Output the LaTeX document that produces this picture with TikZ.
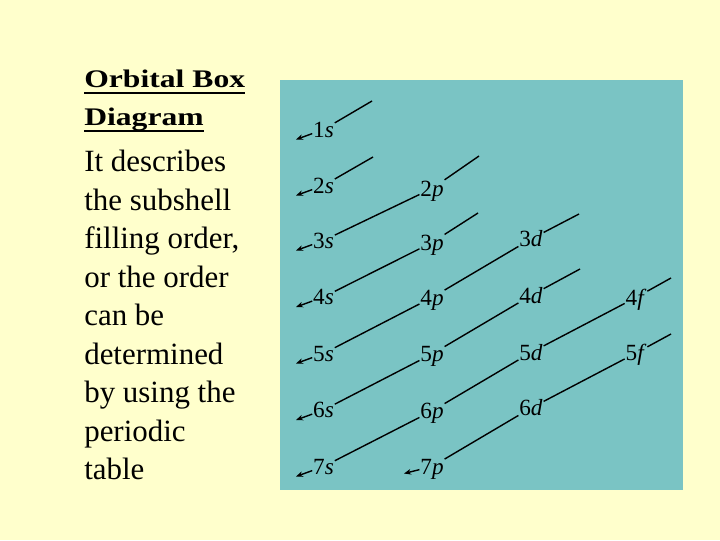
\documentclass[tikz,border=0pt]{standalone}
\usepackage{fontspec}
\setmainfont{Liberation Serif}
\newfontfamily\titlefont[FakeStretch=1.25]{Liberation Serif}
\usepackage{tikz}
\usetikzlibrary{arrows.meta}
\definecolor{slidebg}{RGB}{255,255,204}
\definecolor{panel}{RGB}{122,196,196}

\begin{document}
\begin{tikzpicture}[x=0.025cm,y=-0.025cm,
    orb/.style={inner sep=0.5pt,text height=11pt,text depth=0pt,font=\fontsize{16.5}{16.5}\selectfont},
    diag/.style={line width=1pt},
    back/.style={line width=1pt,-{Stealth[length=5pt,width=4pt]}},
    line/.style={anchor=base west,inner sep=0pt,font=\fontsize{22}{22}\selectfont},
    head/.style={anchor=base west,inner sep=0pt,font=\titlefont\bfseries\fontsize{18}{18}\selectfont}]
    \fill[slidebg] (0,0) rectangle (720,540);
    \fill[panel] (280,80) rectangle (683,490);

    \node[head] (h1) at (84,87) {Orbital Box};
    \node[head] (h2) at (84,125.3) {Diagram\ };
    \draw[line width=1.4pt] ([yshift=-4pt]h1.base west) -- ([yshift=-4pt]h1.base east);
    \draw[line width=1.4pt] ([yshift=-4.2pt]h2.base west) -- ([yshift=-4.2pt]h2.base east);
    \foreach \t [count=\i] in {It describes,the subshell,{filling order,},or the order,can be,determined,by using the,periodic,table}
        \node[line] (b\i) at (84,{171.7+(\i-1)*38.5}) {\t};

    \foreach \n/\y in {1/129.5,2/185.5,3/240.5,4/297,5/353.5,6/410,7/466.5}
        \node[orb] (s\n) at (323.5,\y) {\n\textit{s}};
    \foreach \n/\y in {2/188.5,3/242.5,4/297.5,5/354,6/411,7/466.5}
        \node[orb] (p\n) at (432,\y) {\n\textit{p}};
    \foreach \n/\y in {3/239,4/295.5,5/352.5,6/408}
        \node[orb] (d\n) at (531,\y) {\n\textit{d}};
    \foreach \n/\y in {4/297.5,5/353}
        \node[orb] (f\n) at (636,\y) {\n\textit{f}};

    \coordinate (e1s) at (372,101);
    \coordinate (e2s) at (373,157);
    \coordinate (e2p) at (479,156);
    \coordinate (e3p) at (478,213);
    \coordinate (e3d) at (579,214);
    \coordinate (e4d) at (580,269);
    \coordinate (e4f) at (671,278);
    \coordinate (e5f) at (671,334);

    \draw[diag] (s1) -- (e1s);
    \draw[diag] (s2) -- (e2s);
    \draw[diag] (s3) -- (p2) -- (e2p);
    \draw[diag] (s4) -- (p3) -- (e3p);
    \draw[diag] (s5) -- (p4) -- (d3) -- (e3d);
    \draw[diag] (s6) -- (p5) -- (d4) -- (e4d);
    \draw[diag] (s7) -- (p6) -- (d5) -- (f4) -- (e4f);
    \draw[diag] (p7) -- (d6) -- (f5) -- (e5f);

    \foreach \n/\y in {1/129.5,2/185.5,3/240.5,4/297,5/353.5,6/410,7/466.5}{
        \coordinate (t\n) at (296,\y+10);
        \draw[back] (s\n) -- (t\n);
    }
    \coordinate (t7p) at (404,473.5);
    \draw[back] (p7) -- (t7p);
\end{tikzpicture}
\end{document}
